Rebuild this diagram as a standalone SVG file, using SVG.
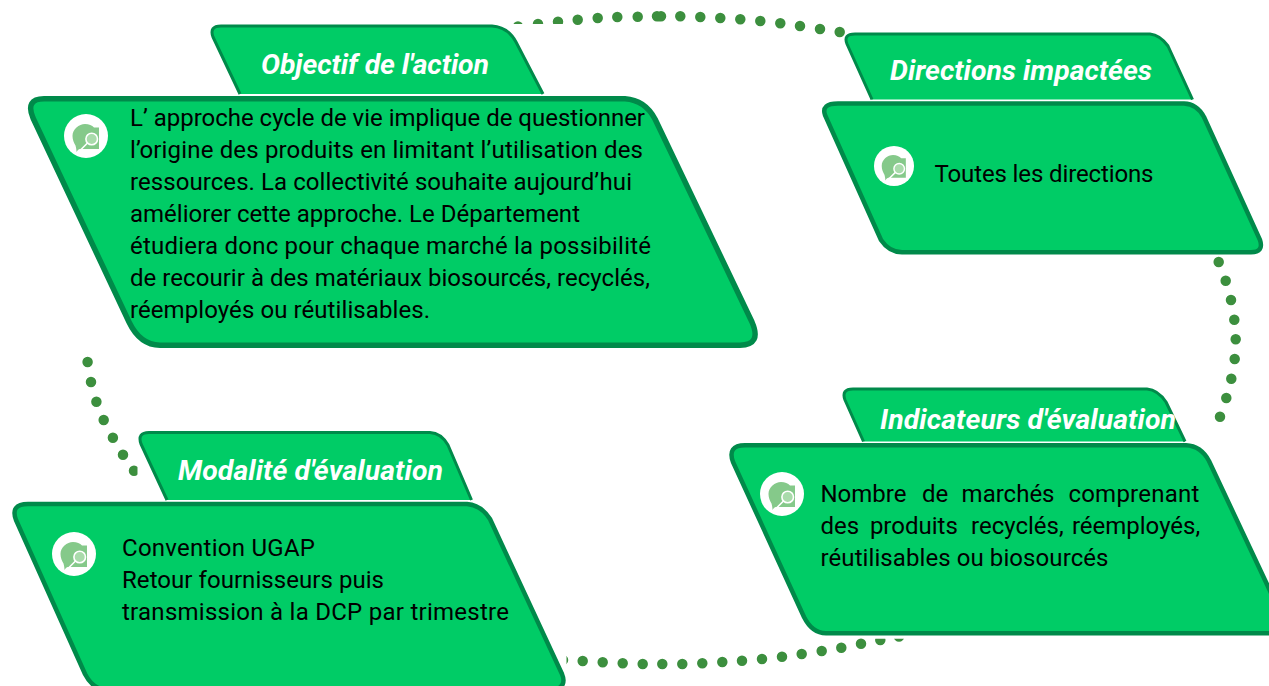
<svg xmlns="http://www.w3.org/2000/svg" width="1269" height="686" viewBox="0 0 1269 686">
<style>
.box{fill:#00cc66;stroke:#008a4a;stroke-linejoin:round}
.head{stroke-width:3}
.body{stroke-width:4.5}
.dots{fill:none;stroke:#3c8f3e;stroke-width:10.5;stroke-linecap:round}
.title{font-family:Roboto,"Liberation Sans",sans-serif;font-style:italic;font-weight:700;font-size:28.4px;fill:#fff}
.txt{font-family:Roboto,"Liberation Sans",sans-serif;font-size:24px;fill:#000}
.disc{fill:#fff}
.blob{fill:#85c98a}
.lens{fill:#a9dbab;stroke:#fff;stroke-width:1.6}
.handle{fill:none;stroke:#fff;stroke-width:1.6;stroke-linecap:round}
</style>
<defs>
<clipPath id="dotclip"><path clip-rule="evenodd" d="M0 0H1269V686H0ZM508 24H572V34H508ZM870 638.800H910V600H870ZM558 650H566.500V672H558ZM137.500 462H145V480H137.500Z"/></clipPath>
<g id="icon">
<circle class="disc" r="22"/>
<path class="blob" d="M-13.500 0C-13.500-7-7-12-1-12C3-12 6-10.500 8-8.500L13-8.500V13H-5C-7 13-8 13.500-9.500 16C-9.500 13.500-10 11.500-10.500 9.500C-12 7-13.500 4-13.500 0Z"/>
<path class="handle" d="M1.500 7L-7.500 16"/>
<circle class="lens" cx="5.700" cy="3" r="5.800"/>
</g>
</defs>
<g id="connectors" clip-path="url(#dotclip)">
<path class="dots" d="M518 26.500h0M538 24h0M558 21.700h0M577.700 19.700h0M597.700 18h0M617.300 17h0M637.700 16.700h0M657 16.200h0M661 16.200h0M680.300 16.300h0M700.300 17h0M720.300 18h0M740.300 19.300h0M760.300 21h0M780.300 23.300h0M800 26h0M820 29h0M839.700 32h0"/>
<path class="dots" d="M1218.700 262h0M1225.700 280.700h0M1231 300h0M1234.300 319.700h0M1235.700 339.300h0M1234.700 359h0M1231.300 378.700h0M1226.300 398h0M1220 416.700h0"/>
<path class="dots" d="M563 660h0M582.700 661h0M602.700 662.300h0M622.700 663.300h0M642.700 664h0M662.300 664h0M682.300 664h0M702.300 663.300h0M722.300 662h0M742 660.700h0M762 659h0M782 656.700h0M801.700 654h0M821.700 651h0M841.300 647.700h0M861 643.700h0M880.300 640h0M899 636.500h0"/>
<path class="dots" d="M87.600 362h0M91 382h0M96.400 401.700h0M103.700 420h0M112.900 437.700h0M123 454.700h0M134 470.700h0"/>
</g>
<g id="node-objectif">
<path class="box head" d="M240 94L213 37Q209 26 221 26H492Q508 27 516 42L543 94"/>
<text class="title" x="261" y="74" textLength="228">Objectif de l'action</text>
<path class="box" stroke-width="5.500" d="M44 98.700H625Q645 100 655 119L752 322Q762 345 740 345.200H160Q140 345 129 322L33 118Q25 98.700 44 98.700Z"/>
<use href="#icon" x="86" y="136"/>
<text class="txt" x="130" y="126" textLength="515">L’ approche cycle de vie implique de questionner</text>
<text class="txt" x="130" y="158" textLength="513">l’origine des produits en limitant l’utilisation des</text>
<text class="txt" x="130" y="190" textLength="502">ressources. La collectivité souhaite aujourd’hui</text>
<text class="txt" x="130" y="222" textLength="450">améliorer cette approche. Le Département</text>
<text class="txt" x="130" y="254" textLength="521">étudiera donc pour chaque marché la possibilité</text>
<text class="txt" x="130" y="286" textLength="520">de recourir à des matériaux biosourcés, recyclés,</text>
<text class="txt" x="130" y="318" textLength="300">réemployés ou réutilisables.</text>
</g>
<g id="node-directions">
<path class="box head" d="M872 99.500L847 44Q843 34 855 34H1150Q1160 35 1168 46L1192.500 99.500"/>
<text class="title" x="890" y="80" textLength="262">Directions impactées</text>
<path class="box body" d="M838 103.500H1184Q1197 104 1204 117L1260 240Q1264 252 1251 252.300H902Q889 252 881 240L825 115Q821 103.500 838 103.500Z"/>
<use href="#icon" transform="translate(894 166) scale(.91)"/>
<text class="txt" x="934.500" y="181.700" textLength="219">Toutes les directions</text>
</g>
<g id="node-indicateurs">
<path class="box head" d="M863.500 441.500L845 400Q841 389 853 389H1147Q1158 390 1166 402L1185 441.500"/>
<text class="title" x="880" y="428.500" textLength="296">Indicateurs d'évaluation</text>
<path class="box body" stroke-width="5" d="M745 445.300H1186Q1201 446 1209 461L1290 633.300H826Q812 633 804 617L733 462Q727 445.300 745 445.300Z"/>
<use href="#icon" x="782" y="494"/>
<text class="txt" y="502"><tspan x="820.500">Nombre</tspan><tspan x="922">de</tspan><tspan x="961.600">marchés</tspan><tspan x="1068.400" textLength="131">comprenant</tspan></text>
<text class="txt" y="534"><tspan x="820.500">des</tspan><tspan x="869.900">produits</tspan><tspan x="971">recyclés,</tspan><tspan x="1071.900">réemployés,</tspan></text>
<text class="txt" x="820.500" y="566" textLength="288">réutilisables ou biosourcés</text>
</g>
<g id="node-modalite">
<path class="box head" d="M167 500L141 444Q137 432.500 149 432.500H430Q441 433 448 445L471.500 500"/>
<text class="title" x="178" y="480" textLength="265">Modalité d'évaluation</text>
<path class="box body" stroke-width="5" d="M28 504H467Q481 505 490 519L562 674Q567 686 555 690H105Q92 688 85 674L16 520Q10 504 28 504Z"/>
<use href="#icon" x="74" y="554"/>
<text class="txt" x="122" y="556" textLength="193">Convention UGAP</text>
<text class="txt" x="122" y="588" textLength="262">Retour fournisseurs puis</text>
<text class="txt" x="122" y="620" textLength="387">transmission à la DCP par trimestre</text>
</g>
</svg>
